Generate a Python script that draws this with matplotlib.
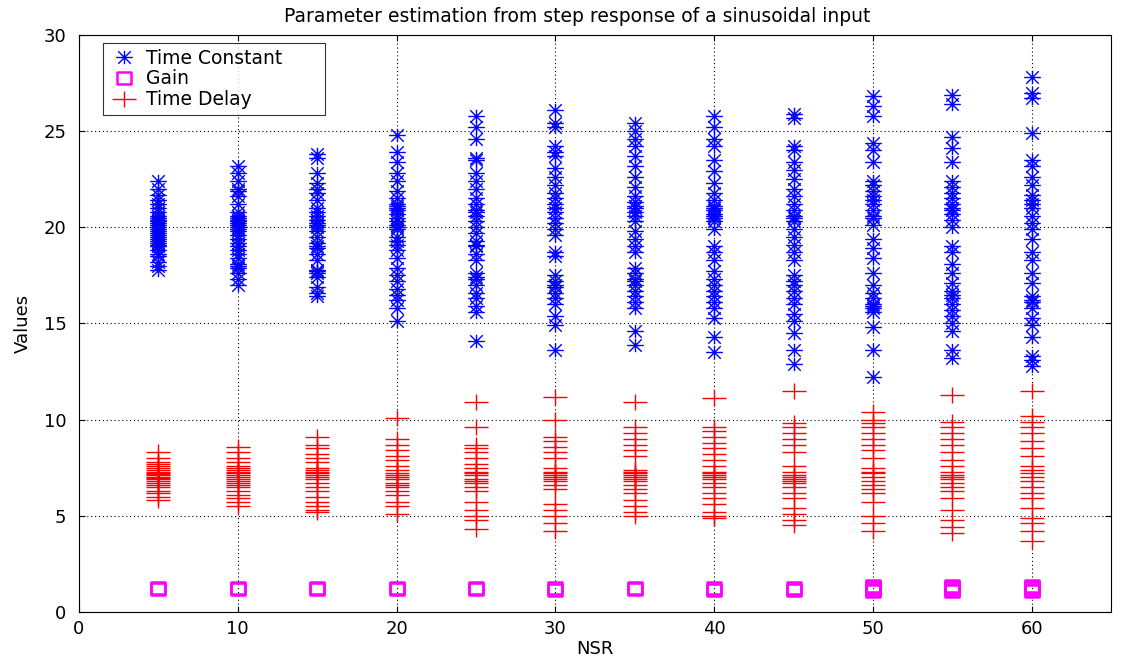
import matplotlib.pyplot as plt
import numpy as np
from matplotlib.path import Path

nsr = [5, 10, 15, 20, 25, 30, 35, 40, 45, 50, 55, 60]

# time constant estimates per NSR
tc = {
    5: [22.4, 22.0, 21.7, 21.4, 21.0, 20.8, 20.6, 20.4, 20.3, 20.2, 20.1, 20.0, 19.9, 19.8, 19.7, 19.6, 19.5, 19.4, 19.3, 19.2, 19.0, 18.8, 18.6, 18.2, 18.0, 17.8, 20.5, 19.1, 21.2, 18.5],
    10: [23.2, 22.8, 22.4, 22.0, 21.6, 21.2, 20.8, 20.6, 20.5, 20.4, 20.3, 20.2, 20.1, 20.0, 19.8, 19.6, 19.4, 19.2, 19.0, 18.8, 18.6, 18.4, 18.1, 17.9, 17.6, 17.3, 17.0, 21.9, 19.9, 18.0],
    15: [23.8, 23.6, 22.8, 22.3, 21.8, 21.4, 21.0, 20.8, 20.6, 20.4, 20.2, 20.0, 19.8, 19.5, 19.2, 18.9, 18.6, 18.3, 17.8, 17.6, 17.4, 16.9, 16.6, 16.4, 20.1, 19.0, 22.0, 17.7],
    20: [24.8, 23.9, 23.4, 22.8, 22.4, 21.9, 21.5, 21.2, 21.0, 20.9, 20.7, 20.5, 20.3, 20.1, 19.9, 19.5, 19.1, 18.8, 18.4, 17.9, 17.5, 17.2, 16.8, 16.5, 16.2, 15.8, 15.1, 20.0, 19.3, 21.1],
    25: [25.8, 25.2, 24.6, 23.6, 23.5, 22.8, 22.4, 22.0, 21.5, 21.2, 20.9, 20.6, 20.3, 20.0, 19.7, 19.3, 19.0, 18.6, 18.3, 17.6, 17.3, 17.0, 16.6, 16.3, 15.9, 15.6, 14.1, 20.8, 19.1, 17.4],
    30: [26.1, 25.4, 25.2, 24.2, 23.9, 23.7, 23.1, 22.6, 22.2, 21.8, 21.5, 21.2, 21.0, 20.5, 20.2, 19.9, 19.6, 18.7, 18.5, 17.5, 17.2, 16.9, 16.6, 16.3, 16.0, 15.4, 14.9, 13.6, 20.8, 17.0],
    35: [25.4, 25.0, 24.6, 24.2, 23.7, 23.2, 22.6, 22.1, 21.6, 21.3, 21.0, 20.8, 20.6, 20.3, 19.8, 19.4, 19.0, 18.7, 17.9, 17.6, 17.3, 17.0, 16.7, 16.4, 16.1, 15.8, 14.6, 13.9, 21.1, 17.2],
    40: [25.8, 25.2, 24.6, 24.2, 23.5, 22.9, 22.3, 21.8, 21.4, 21.1, 20.9, 20.7, 20.5, 20.3, 19.9, 19.0, 18.7, 18.3, 17.7, 17.3, 17.0, 16.7, 16.4, 16.1, 15.8, 15.3, 14.3, 13.5, 21.0, 20.6],
    45: [25.9, 25.7, 24.2, 24.0, 23.4, 23.0, 22.5, 22.0, 21.6, 21.2, 20.9, 20.6, 20.3, 19.9, 19.5, 19.1, 18.7, 18.3, 17.5, 17.2, 17.0, 16.7, 16.3, 16.0, 15.5, 15.1, 14.5, 13.6, 12.9, 20.5],
    50: [26.8, 26.3, 25.8, 24.4, 24.0, 23.4, 22.4, 22.2, 21.9, 21.6, 21.2, 20.9, 20.6, 20.5, 20.1, 19.4, 18.9, 18.4, 17.6, 17.0, 16.6, 16.3, 16.0, 15.8, 15.6, 14.8, 13.6, 12.2, 21.4, 15.9],
    55: [26.9, 26.4, 24.7, 24.1, 23.4, 22.4, 22.1, 21.8, 21.5, 21.2, 20.9, 20.7, 20.4, 20.0, 19.0, 18.7, 18.1, 17.6, 17.1, 16.7, 16.3, 16.0, 15.7, 15.4, 15.0, 14.6, 13.6, 13.2, 21.0, 16.5],
    60: [27.8, 27.0, 26.7, 24.9, 23.5, 23.2, 22.6, 22.2, 21.7, 21.4, 21.0, 20.6, 20.2, 19.9, 19.4, 18.7, 18.3, 17.6, 17.1, 16.4, 16.1, 15.8, 15.3, 14.9, 14.3, 13.3, 13.1, 12.8, 21.2, 16.2],
}

# time delay estimates per NSR
td = {
    5: [8.3, 8.0, 7.8, 7.6, 7.5, 7.4, 7.3, 7.2, 7.1, 7.0, 6.9, 6.8, 6.7, 6.6, 6.5, 6.3, 6.2, 6.0, 5.8, 7.7, 7.15, 6.95],
    10: [8.6, 8.3, 8.0, 7.8, 7.6, 7.4, 7.3, 7.2, 7.1, 7.0, 6.9, 6.8, 6.7, 6.5, 6.3, 6.1, 5.9, 5.7, 5.5, 7.5, 6.6],
    15: [9.1, 8.7, 8.5, 8.2, 8.0, 7.8, 7.5, 7.4, 7.3, 7.2, 7.1, 6.9, 6.7, 6.5, 6.3, 6.0, 5.7, 5.5, 5.3, 5.2, 7.0],
    20: [10.1, 9.0, 8.7, 8.4, 8.1, 7.9, 7.6, 7.4, 7.2, 7.0, 6.9, 6.7, 6.5, 6.3, 6.1, 5.7, 5.5, 5.1, 7.1, 6.6],
    25: [10.9, 9.6, 8.7, 8.5, 8.3, 8.0, 7.7, 7.5, 7.3, 7.1, 6.9, 6.7, 6.5, 6.3, 5.7, 5.3, 5.0, 4.8, 4.3, 7.2, 6.8],
    30: [11.2, 10.0, 9.1, 8.9, 8.6, 8.3, 8.0, 7.5, 7.3, 7.1, 7.0, 6.8, 6.6, 6.4, 5.6, 5.3, 5.0, 4.6, 4.2, 7.2, 6.9],
    35: [10.9, 9.6, 9.3, 9.0, 8.7, 8.4, 8.1, 7.4, 7.2, 7.1, 7.0, 6.8, 6.6, 6.4, 6.2, 5.8, 5.5, 5.2, 5.0, 7.3, 6.9],
    40: [11.1, 9.6, 9.4, 9.1, 8.8, 8.5, 8.2, 7.9, 7.6, 7.3, 7.2, 7.0, 6.9, 6.7, 6.5, 6.2, 5.9, 5.6, 5.2, 5.0, 4.9, 7.1],
    45: [11.5, 9.8, 9.6, 9.3, 9.0, 8.7, 8.3, 7.6, 7.3, 7.1, 6.9, 6.7, 6.5, 6.2, 5.9, 5.4, 5.1, 4.8, 4.5, 7.0, 6.8],
    50: [10.4, 10.0, 9.8, 9.6, 9.3, 9.0, 8.7, 8.4, 8.0, 7.5, 7.2, 7.0, 6.8, 6.6, 6.4, 6.2, 5.7, 5.0, 4.6, 4.2, 7.3],
    55: [11.3, 9.9, 9.6, 9.3, 9.0, 8.7, 8.3, 7.9, 7.6, 7.3, 7.1, 6.9, 6.7, 6.5, 6.3, 5.9, 5.3, 4.8, 4.4, 4.1, 7.0],
    60: [11.5, 10.2, 9.9, 9.6, 9.3, 8.9, 8.5, 8.1, 7.6, 7.4, 7.2, 7.0, 6.8, 6.5, 6.2, 5.9, 5.4, 4.9, 4.6, 4.2, 3.7],
}

# gain estimates per NSR
gain = {
    5: [1.18, 1.25], 10: [1.18, 1.25], 15: [1.18, 1.25], 20: [1.17, 1.26],
    25: [1.17, 1.26], 30: [1.15, 1.27], 35: [1.17, 1.26], 40: [1.16, 1.26],
    45: [1.16, 1.26], 50: [1.10, 1.16, 1.22, 1.28, 1.34], 55: [1.10, 1.16, 1.22, 1.28, 1.34],
    60: [1.10, 1.16, 1.22, 1.28, 1.34],
}

def flat(d):
    xs, ys = [], []
    for k in nsr:
        xs += [k] * len(d[k])
        ys += d[k]
    return np.array(xs), np.array(ys)

# matlab-like markers (a bit wider than tall, like the original)
star = Path([(-1, 0), (1, 0), (0, -0.8), (0, 0.8), (-0.75, -0.75), (0.75, 0.75), (-0.75, 0.75), (0.75, -0.75)],
            [Path.MOVETO, Path.LINETO] * 4)
plus = Path([(-1, 0), (1, 0), (0, -0.7), (0, 0.7)], [Path.MOVETO, Path.LINETO] * 2)
sq = Path([(-1, -0.85), (1, -0.85), (1, 0.85), (-1, 0.85), (-1, -0.85)],
          [Path.MOVETO] + [Path.LINETO] * 3 + [Path.CLOSEPOLY])

fig = plt.figure(figsize=(11.31, 6.58), dpi=100)
ax = fig.add_axes([0.0698, 0.070, 0.9127, 0.877])

x1, y1 = flat(tc)
x2, y2 = flat(gain)
x3, y3 = flat(td)
ax.plot(x1, y1, linestyle='none', marker=star, color='#0000ff', ms=12, mew=1.0, label='Time Constant')
ax.plot(x2, y2, linestyle='none', marker=sq, color='#ff00ff', mfc='none', ms=10.5, mew=1.8, label='Gain')
ax.plot(x3, y3, linestyle='none', marker=plus, color='#ff0000', ms=17, mew=1.0, label='Time Delay')

ax.set_xlim(0, 65)
ax.set_ylim(0, 30)
ax.set_xticks(range(0, 61, 10))
ax.set_yticks(range(0, 31, 5))
ax.grid(True, color='black', linestyle=(0, (1, 2.5)), linewidth=0.8)
ax.tick_params(direction='in', labelsize=13, top=True, right=True, length=4, pad=6)
ax.tick_params(axis='y', pad=9)
for s in ax.spines.values():
    s.set_linewidth(0.8)

ax.set_title('Parameter estimation from step response of a sinusoidal input', fontsize=13.5,
             pad=9, x=0.483)
ax.set_xlabel('NSR', fontsize=13, labelpad=1)
ax.set_ylabel('Values', fontsize=13, labelpad=8)

leg = ax.legend(loc='upper left', bbox_to_anchor=(0.0233, 0.5, 0.215, 0.486), mode='expand',
                fontsize=13.5, frameon=True, fancybox=False, edgecolor='black',
                borderpad=0.3, labelspacing=0.1, handletextpad=0.4, handlelength=1.6,
                borderaxespad=0)
leg.get_frame().set_linewidth(0.8)

fig.savefig('out.png', dpi=100)
